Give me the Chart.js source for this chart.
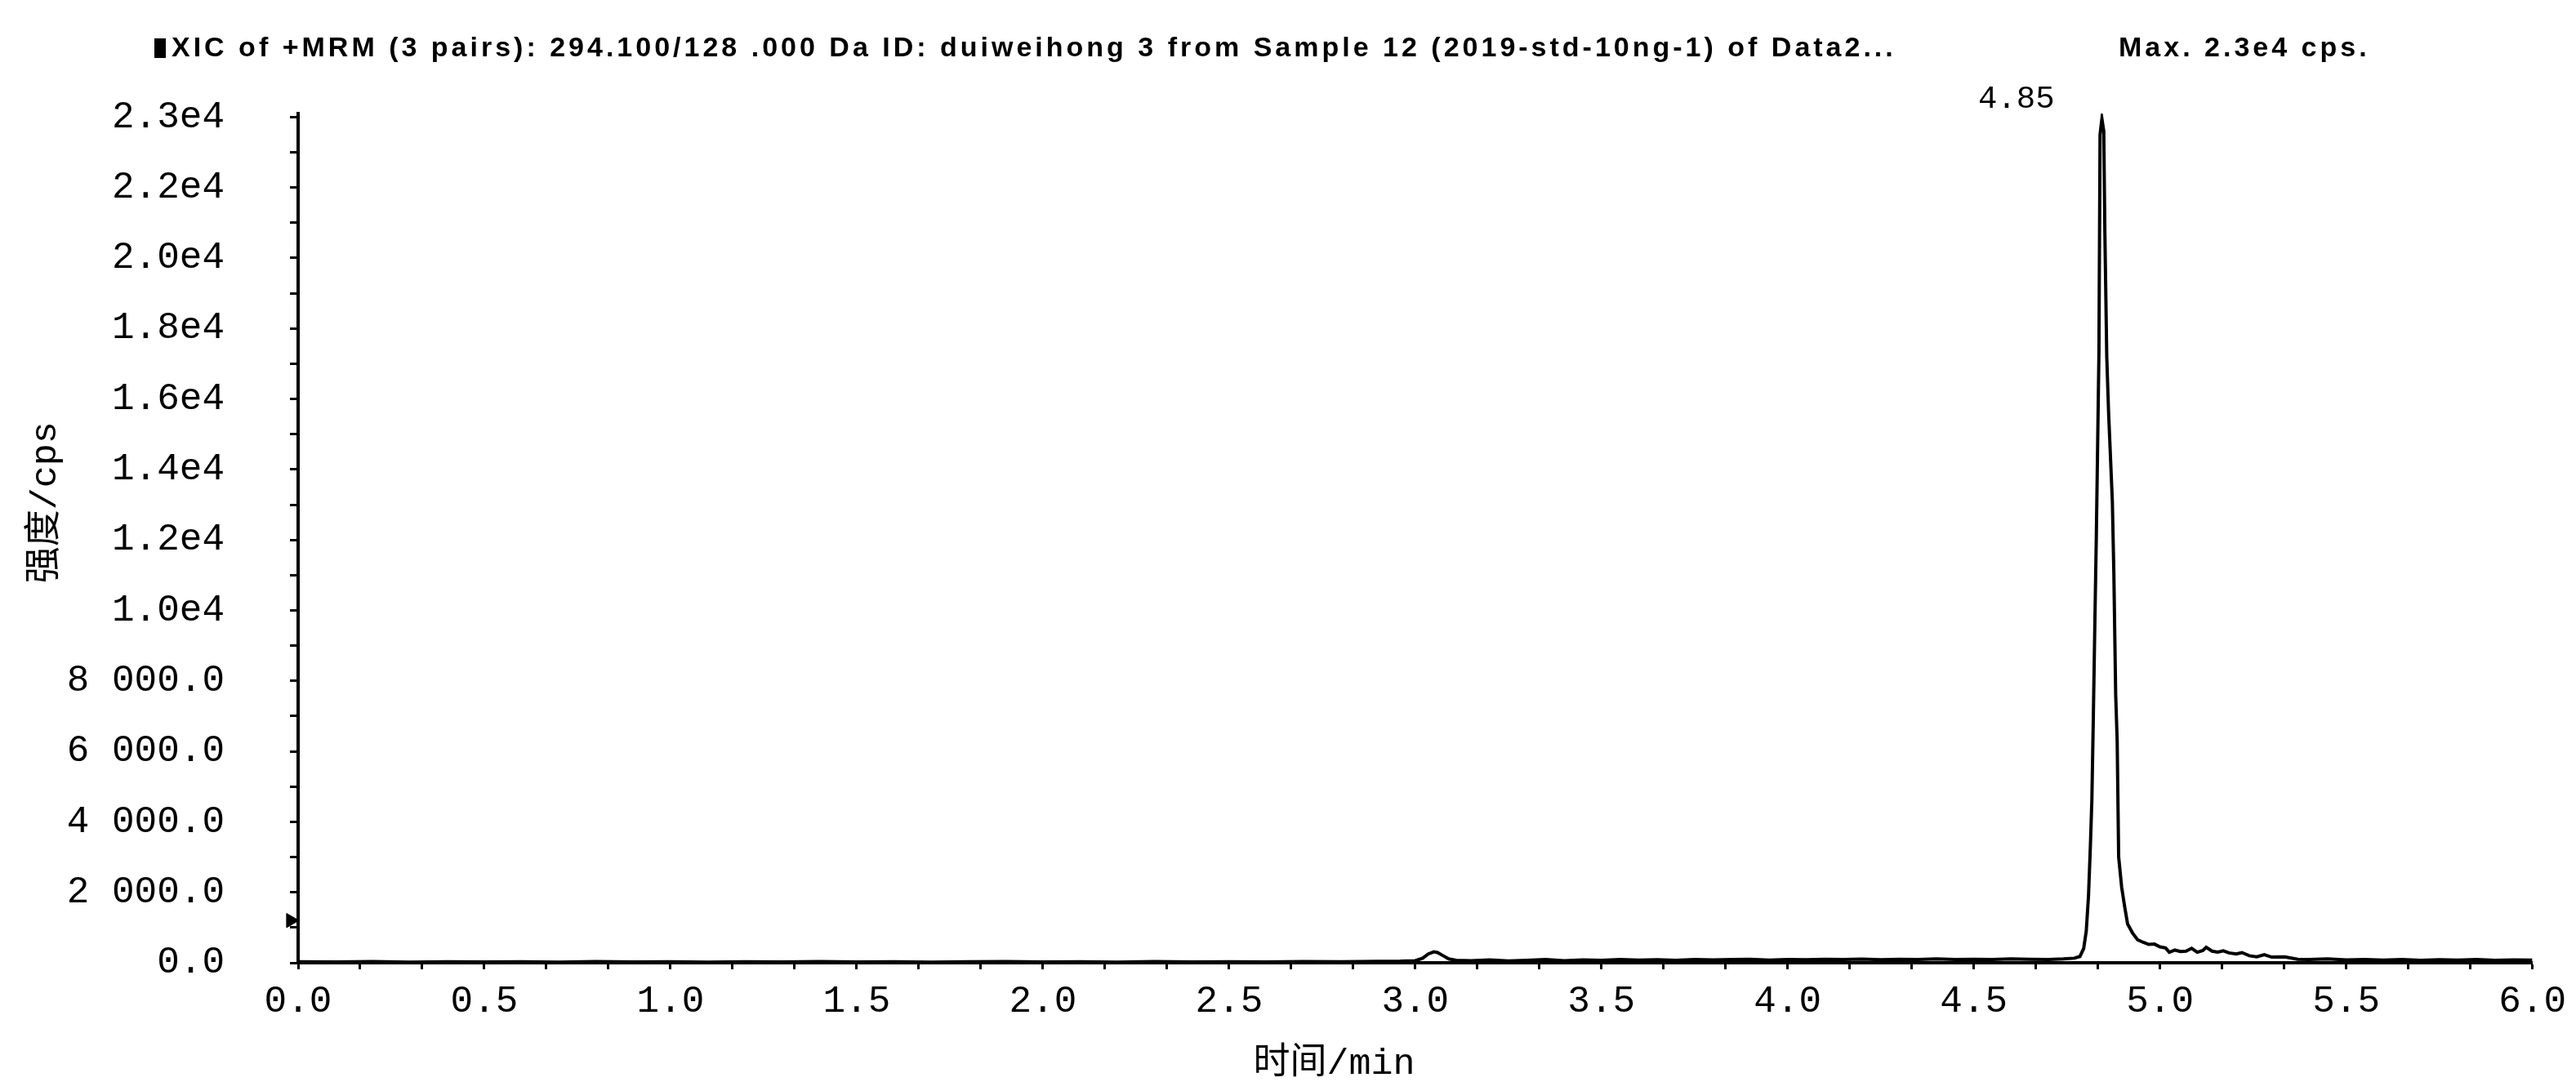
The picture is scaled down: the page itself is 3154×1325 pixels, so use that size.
<!DOCTYPE html>
<html>
<head>
<meta charset="utf-8">
<title>XIC 294.100/128.000</title>
<script src="https://cdn.jsdelivr.net/npm/chart.js@4.4.1/dist/chart.umd.min.js"></script>
<style>
  html, body { margin: 0; padding: 0; background: #fff; }
  #wrap { width: 3154px; height: 1325px; }
</style>
</head>
<body>
<div id="wrap"><canvas id="chart" width="3154" height="1325"></canvas></div>
<script>
// texts
const headerText = 'XIC of +MRM (3 pairs): 294.100/128 .000 Da ID: duiweihong 3 from Sample 12 (2019-std-10ng-1) of Data2...';
const maxText = 'Max. 2.3e4 cps.';
const xTitle = '时间/min';
const yTitle = '强度/cps';
const peakLabel = '4.85';

// axis labels
const xLabelValues = [0, 0.5, 1, 1.5, 2, 2.5, 3, 3.5, 4, 4.5, 5, 5.5, 6];
const xLabels = ['0.0', '0.5', '1.0', '1.5', '2.0', '2.5', '3.0', '3.5', '4.0', '4.5', '5.0', '5.5', '6.0'];
const yLabelValues = [0, 2000, 4000, 6000, 8000, 10000, 12000, 14000, 16000, 18000, 20000, 22000, 24000];
const yLabels = ['0.0', '2 000.0', '4 000.0', '6 000.0', '8 000.0', '1.0e4', '1.2e4', '1.4e4', '1.6e4', '1.8e4', '2.0e4', '2.2e4', '2.3e4'];

// trace (min, cps)
const timeMin = [
  0.00, 0.10, 0.20, 0.30, 0.40, 0.50, 0.60, 0.70, 0.80, 0.90,
  1.00, 1.10, 1.20, 1.30, 1.40, 1.50, 1.60, 1.70, 1.80, 1.90,
  2.00, 2.10, 2.20, 2.30, 2.40, 2.50, 2.60, 2.70, 2.80, 2.90,
  2.96, 3.00, 3.02, 3.035, 3.05, 3.06, 3.075, 3.09, 3.11, 3.15,
  3.20, 3.25, 3.30, 3.35, 3.40, 3.45, 3.50, 3.55, 3.60, 3.65,
  3.70, 3.75, 3.80, 3.85, 3.90, 3.95, 4.00, 4.05, 4.10, 4.15,
  4.20, 4.25, 4.30, 4.35, 4.40, 4.45, 4.50, 4.55, 4.60, 4.65,
  4.70, 4.74, 4.77, 4.785, 4.795, 4.802, 4.808, 4.813, 4.817, 4.821,
  4.825, 4.829, 4.832, 4.836, 4.839, 4.844, 4.849, 4.852, 4.857, 4.862,
  4.868, 4.872, 4.876, 4.881, 4.885, 4.889, 4.897, 4.905, 4.913, 4.926,
  4.940, 4.955, 4.970, 4.985, 5.000, 5.015, 5.025, 5.040, 5.055, 5.070,
  5.085, 5.100, 5.115, 5.124, 5.140, 5.155, 5.170, 5.185, 5.205, 5.220,
  5.240, 5.260, 5.280, 5.300, 5.335, 5.370, 5.400, 5.450, 5.500, 5.550,
  5.600, 5.650, 5.700, 5.750, 5.800, 5.850, 5.900, 5.950, 6.000
];
const intensity = [
  30, 25, 35, 20, 30, 25, 30, 20, 35, 25,
  30, 20, 30, 25, 35, 25, 30, 20, 30, 35,
  25, 30, 20, 35, 25, 30, 25, 35, 30, 40,
  45, 60, 130, 250, 310, 290, 200, 110, 70, 60,
  80, 55, 70, 90, 60, 80, 70, 95, 75, 85,
  70, 95, 80, 90, 100, 75, 95, 85, 100, 90,
  105, 85, 100, 90, 110, 95, 100, 90, 110, 100,
  95, 110, 130, 180, 400, 900, 1900, 3300, 4600, 7000,
  9600, 12100, 14300, 17300, 23500, 23950, 23600, 20700, 17200, 15600,
  14100, 13100, 11100, 7600, 6300, 3000, 2150, 1600, 1100, 850,
  650, 580, 520, 530, 450, 420, 300, 360, 320, 330,
  410, 300, 350, 440, 330, 300, 340, 280, 250, 290,
  200, 170, 230, 160, 170, 100, 90, 110, 80, 95,
  75, 90, 70, 85, 75, 90, 70, 80, 75
];

// small marker on the y axis
const markerTime = -0.02;
const markerLevel = 1200;

const tickFont = { family: '"Liberation Mono", monospace', size: 46 };

const textPlugin = {
  id: 'chromText',
  afterDraw(chart) {
    const { ctx, chartArea: a, scales: { x, y } } = chart;
    ctx.save();
    ctx.fillStyle = '#000';

    // header line
    ctx.font = 'bold 34px "Liberation Sans", Arial, sans-serif';
    ctx.letterSpacing = '4px';
    ctx.textBaseline = 'middle';
    ctx.textAlign = 'left';
    ctx.fillRect(189, 47, 14, 24);
    ctx.fillText(headerText, 210, 60);
    ctx.fillText(maxText, 2594, 60);
    ctx.letterSpacing = '0px';

    // retention time over the biggest peak
    const iMax = intensity.indexOf(Math.max(...intensity));
    ctx.font = '39px "Liberation Mono", monospace';
    ctx.textAlign = 'right';
    ctx.fillText(peakLabel, x.getPixelForValue(timeMin[iMax]) - 58, y.getPixelForValue(intensity[iMax]) - 24);

    // axis titles
    ctx.font = '45px "Liberation Mono", "Noto Sans CJK SC", sans-serif';
    ctx.textAlign = 'center';
    ctx.fillText(xTitle, a.left + 0.4637 * (a.right - a.left), 1303);
    ctx.translate(56, a.top + 0.458 * (a.bottom - a.top));
    ctx.rotate(-Math.PI / 2);
    ctx.fillText(yTitle, 0, 0);
    ctx.restore();
  }
};

function labelFor(values, labels, v) {
  const i = values.findIndex(lv => Math.abs(lv - v) < 1e-6);
  return i >= 0 ? labels[i] : '';
}

const ctx = document.getElementById('chart').getContext('2d');
new Chart(ctx, {
  type: 'line',
  data: {
    datasets: [{
      data: timeMin.map((t, i) => ({ x: t, y: intensity[i] })),
      borderColor: '#000',
      borderWidth: 4,
      pointRadius: 0,
      tension: 0,
      fill: false
    }, {
      data: [{ x: markerTime, y: markerLevel }],
      showLine: false,
      pointStyle: 'triangle',
      rotation: 90,
      pointRadius: 10,
      backgroundColor: '#000',
      borderColor: '#000',
      clip: false
    }]
  },
  options: {
    responsive: false,
    animation: false,
    devicePixelRatio: 1,
    layout: { padding: { top: 139, right: 51, bottom: 0, left: 0 } },
    plugins: {
      legend: { display: false },
      tooltip: { enabled: false },
      title: { display: false }
    },
    scales: {
      x: {
        type: 'linear',
        min: 0,
        max: 6,
        afterFit(s) { s.height = 146; },
        afterBuildTicks(s) {
          // a small tick every 10 s
          const t = [];
          for (let k = 0; k <= 36; k++) t.push({ value: k / 6 });
          s.ticks = t;
        },
        grid: { display: true, drawOnChartArea: false, drawTicks: true, tickLength: 8, tickWidth: 3, tickColor: '#000' },
        border: { display: true, color: '#000', width: 4 },
        ticks: {
          autoSkip: false,
          maxRotation: 0,
          padding: 12,
          color: '#000',
          font: tickFont,
          callback: v => labelFor(xLabelValues, xLabels, v)
        }
      },
      y: {
        type: 'linear',
        min: 0,
        max: 24100,
        afterFit(s) { s.width = 365; },
        afterBuildTicks(s) {
          const t = [];
          for (let v = 0; v <= 24000; v += 1000) t.push({ value: v });
          s.ticks = t;
        },
        grid: { display: true, drawOnChartArea: false, drawTicks: true, tickLength: 10, tickWidth: 3, tickColor: '#000' },
        border: { display: true, color: '#000', width: 4 },
        ticks: {
          autoSkip: false,
          padding: 80,
          color: '#000',
          font: tickFont,
          callback: v => labelFor(yLabelValues, yLabels, v)
        }
      }
    }
  },
  plugins: [textPlugin]
});
</script>
</body>
</html>
